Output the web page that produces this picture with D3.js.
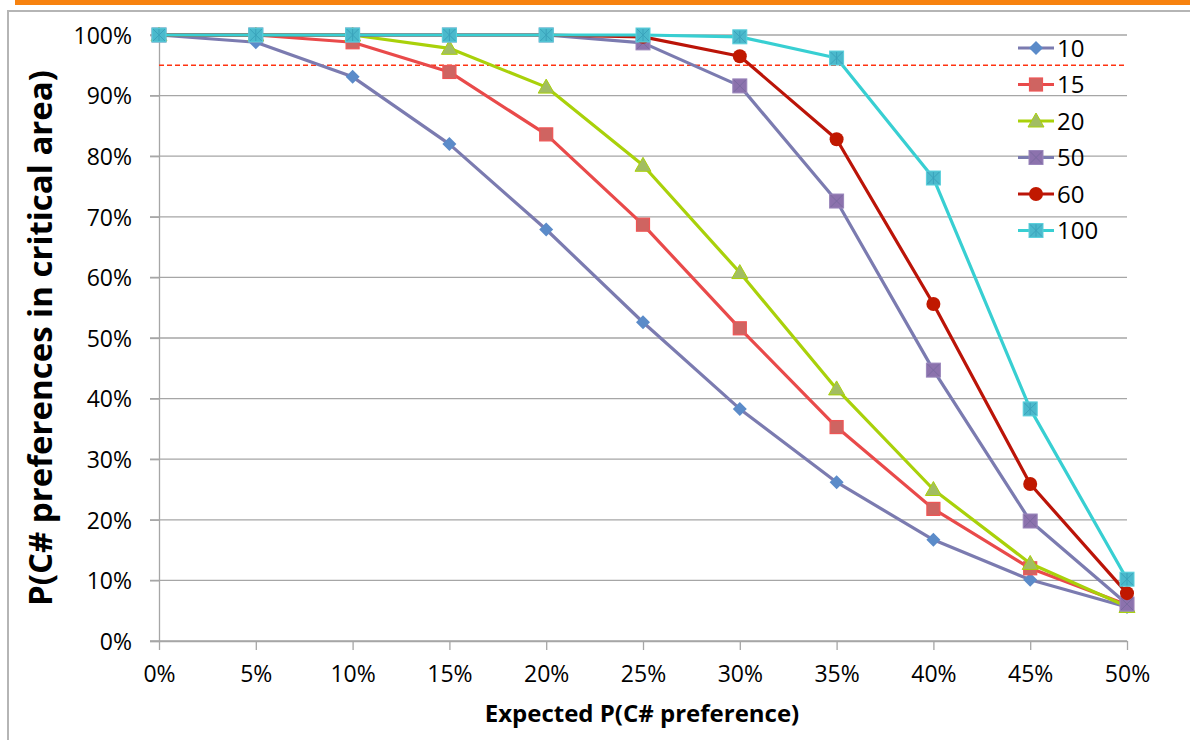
<!DOCTYPE html>
<meta charset="utf-8">
<script src="https://d3js.org/d3.v7.min.js"></script>
<style>
body { margin: 0; background: #fff; }
text { font-family: "Open Sans", "DejaVu Sans", sans-serif; fill: #000; }
</style>
<body>
<script>
// expected P(C# preference) on the x axis
var xValues = [0, 0.05, 0.10, 0.15, 0.20, 0.25, 0.30, 0.35, 0.40, 0.45, 0.50];
var yTicks = [0, 0.1, 0.2, 0.3, 0.4, 0.5, 0.6, 0.7, 0.8, 0.9, 1.0];

var seriesNames = ["10", "15", "20", "50", "60", "100"];
var s10  = [1.000, 0.988, 0.931, 0.820, 0.679, 0.526, 0.383, 0.262, 0.167, 0.101, 0.056];
var s15  = [1.000, 1.000, 0.988, 0.939, 0.836, 0.687, 0.516, 0.353, 0.218, 0.120, 0.060];
var s20  = [1.000, 1.000, 1.000, 0.978, 0.914, 0.785, 0.608, 0.416, 0.250, 0.128, 0.057];
var s50  = [1.000, 1.000, 1.000, 1.000, 1.000, 0.987, 0.916, 0.726, 0.447, 0.198, 0.061];
var s60  = [1.000, 1.000, 1.000, 1.000, 1.000, 0.997, 0.965, 0.828, 0.556, 0.259, 0.079];
var s100 = [1.000, 1.000, 1.000, 1.000, 1.000, 1.000, 0.997, 0.962, 0.764, 0.383, 0.102];
var threshold = 0.95;

var styles = [
  {line: "#7b7bb0", fill: "#5b8bc9", stroke: "#5b8bc9", shape: "diamond"},
  {line: "#e94a4a", fill: "#cf6461", stroke: "#ee5555", shape: "square"},
  {line: "#a9d10a", fill: "#a2bd62", stroke: "#a9d10a", shape: "triangle"},
  {line: "#7b7bb0", fill: "#8c72ad", stroke: "#9a86bb", shape: "squareX"},
  {line: "#bb1408", fill: "#c01800", stroke: "#c01800", shape: "circle"},
  {line: "#38cfd2", fill: "#4bb9cc", stroke: "#5ad0dc", shape: "squareStar"}
];
var allSeries = [s10, s15, s20, s50, s60, s100];

var W = 1190, H = 740;
var svg = d3.select("body").append("svg").attr("width", W).attr("height", H);

// slide decoration
svg.append("rect").attr("x", 15).attr("y", 0).attr("width", W - 15).attr("height", 5).attr("fill", "#f7820f");
svg.append("path").attr("d", "M8,740V11H1190").attr("fill", "none").attr("stroke", "#b5b5b5").attr("stroke-width", 2);

var x = d3.scaleLinear().domain([0, 0.5]).range([159, 1127]);
var y = d3.scaleLinear().domain([0, 1]).range([641, 35]);

// grid
svg.append("g").selectAll("line").data(yTicks).join("line")
  .attr("x1", 150).attr("x2", x(0.5))
  .attr("y1", d => y(d)).attr("y2", d => y(d))
  .attr("stroke", "#a6a6a6").attr("stroke-width", 1.3);

// y axis
var yAxis = svg.append("g").attr("transform", "translate(159,0)")
  .call(d3.axisLeft(y).tickValues(yTicks).tickFormat(d3.format(".0%")).tickSize(9).tickPadding(18));
yAxis.select(".domain").attr("stroke", "#a6a6a6").attr("stroke-width", 1.3);
yAxis.selectAll(".tick line").attr("stroke", "#a6a6a6").attr("stroke-width", 1.3);
yAxis.selectAll("text").style("font-size", "23px").attr("dy", "0.36em");

// x axis
var xAxis = svg.append("g").attr("transform", "translate(0,641)")
  .call(d3.axisBottom(x).tickValues(xValues).tickFormat(d3.format(".0%")).tickSize(9).tickSizeOuter(0).tickPadding(16));
xAxis.select(".domain").attr("stroke", "#a6a6a6").attr("stroke-width", 1.3);
xAxis.selectAll(".tick line").attr("stroke", "#a6a6a6").attr("stroke-width", 1.3);
xAxis.selectAll("text").style("font-size", "23px");

// 95% threshold
svg.append("line").attr("x1", x(0)).attr("x2", x(0.5))
  .attr("y1", y(threshold)).attr("y2", y(threshold))
  .attr("stroke", "#ff3311").attr("stroke-width", 1.5).attr("stroke-dasharray", "5,3");

// axis titles
svg.append("text").attr("transform", "translate(52,338) rotate(-90)")
  .attr("text-anchor", "middle").style("font-size", "33px").style("font-weight", "bold")
  .text("P(C# preferences in critical area)");
svg.append("text").attr("x", 642).attr("y", 722)
  .attr("text-anchor", "middle").style("font-size", "24px").style("font-weight", "bold")
  .text("Expected P(C# preference)");

function drawMarker(g, st) {
  if (st.shape === "diamond") {
    g.append("path").attr("d", "M0,-7L7,0L0,7L-7,0Z").attr("fill", st.fill);
  } else if (st.shape === "square") {
    g.append("rect").attr("x", -6.5).attr("y", -6.5).attr("width", 13).attr("height", 13)
      .attr("fill", st.fill).attr("stroke", st.stroke).attr("stroke-width", 1.2);
  } else if (st.shape === "triangle") {
    g.append("path").attr("d", "M0,-8L8,6L-8,6Z").attr("fill", st.fill).attr("stroke", st.stroke).attr("stroke-width", 1);
  } else if (st.shape === "circle") {
    g.append("circle").attr("r", 7).attr("fill", st.fill);
  } else {
    g.append("rect").attr("x", -7).attr("y", -7).attr("width", 14).attr("height", 14)
      .attr("fill", st.fill).attr("stroke", st.stroke).attr("stroke-width", 1);
    var c = st.shape === "squareX" ? "#7a6aa0" : "#3aa3bb";
    g.append("path").attr("d", "M-6,-6L6,6M6,-6L-6,6").attr("stroke", c).attr("stroke-width", 1);
    if (st.shape === "squareStar")
      g.append("path").attr("d", "M0,-6V6").attr("stroke", c).attr("stroke-width", 1);
  }
}

var line = d3.line().x((d, i) => x(xValues[i])).y(d => y(d));

allSeries.forEach(function(vals, k) {
  var st = styles[k];
  var g = svg.append("g");
  g.append("path").datum(vals).attr("d", line)
    .attr("fill", "none").attr("stroke", st.line).attr("stroke-width", 3.2).attr("stroke-linejoin", "round");
  g.selectAll("g").data(vals).join("g")
    .attr("transform", (d, i) => "translate(" + x(xValues[i]) + "," + y(d) + ")")
    .each(function() { drawMarker(d3.select(this), st); });
});

// legend
var legend = svg.append("g").attr("transform", "translate(1018,48)");
seriesNames.forEach(function(name, k) {
  var st = styles[k];
  var row = legend.append("g").attr("transform", "translate(0," + (k * 36.5) + ")");
  row.append("line").attr("x1", 0).attr("x2", 36).attr("stroke", st.line).attr("stroke-width", 3);
  var m = row.append("g").attr("transform", "translate(18,0)");
  drawMarker(m, st);
  row.append("text").attr("x", 39).attr("dy", "0.36em").style("font-size", "24px").text(name);
});
</script>
</body>
